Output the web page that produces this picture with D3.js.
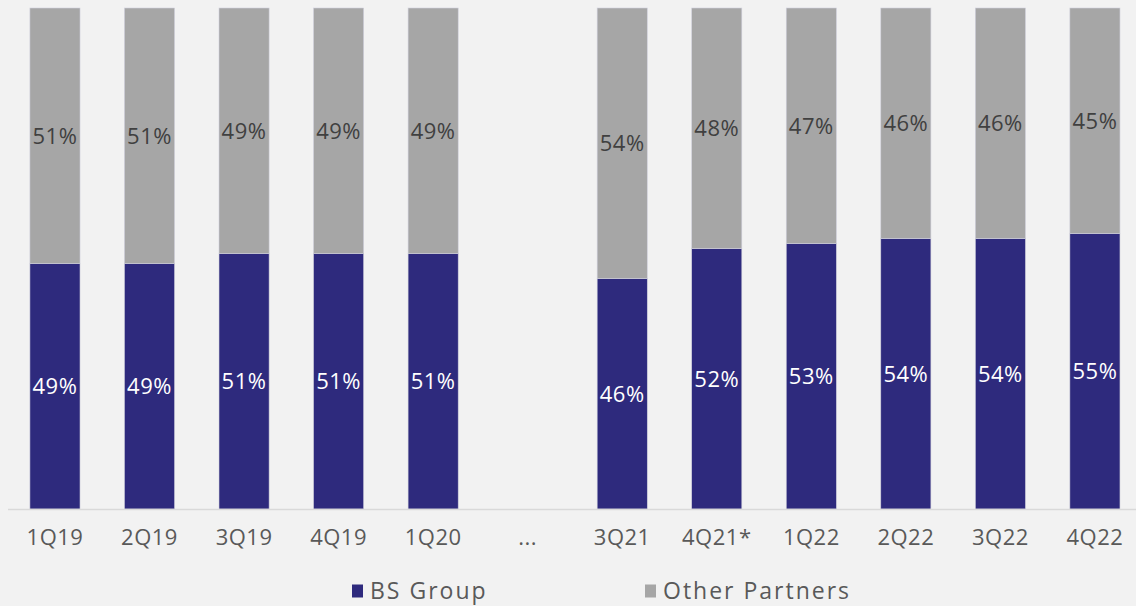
<!DOCTYPE html>
<html>
<head>
<meta charset="utf-8">
<script src="https://cdn.jsdelivr.net/npm/d3@7"></script>
<style>
  html, body { margin: 0; padding: 0; background: #f2f2f2; }
  svg { display: block; }
  text { font-family: "Open Sans", "Noto Sans", sans-serif; }
</style>
</head>
<body>
<svg id="chart" width="1136" height="606"></svg>
<script>
// Quarterly share of partner volume (%), "..." marks the gap in the series
const categories = ["1Q19", "2Q19", "3Q19", "4Q19", "1Q20", "...", "3Q21", "4Q21*", "1Q22", "2Q22", "3Q22", "4Q22"];
const bsGroup = [49, 49, 51, 51, 51, null, 46, 52, 53, 54, 54, 55];
const otherPartners = [51, 51, 49, 49, 49, null, 54, 48, 47, 46, 46, 45];
const seriesNames = ["BS Group", "Other Partners"];
const seriesColors = ["#2e2a7d", "#a6a6a6"];
const labelColors = ["#ffffff", "#404040"];

const width = 1136, height = 606;
const svg = d3.select("#chart");

const x = d3.scaleBand()
  .domain(categories)
  .range([7.7, 1142.2])
  .paddingInner(0.47)
  .paddingOuter(0.235);

const y = d3.scaleLinear().domain([0, 100]).range([509, 8]);

const rows = categories.map((c, i) => ({
  cat: c,
  "BS Group": bsGroup[i],
  "Other Partners": otherPartners[i]
})).filter(d => d["BS Group"] != null);

const stacked = d3.stack().keys(seriesNames)(rows);

const layers = svg.append("g").selectAll("g")
  .data(stacked)
  .join("g")
  .attr("fill", (d, i) => seriesColors[i]);

layers.selectAll("rect")
  .data(d => d)
  .join("rect")
  .attr("x", d => x(d.data.cat))
  .attr("width", x.bandwidth())
  .attr("y", d => y(d[1]))
  .attr("height", d => y(d[0]) - y(d[1]))
  .attr("stroke", "#d0d0dc")
  .attr("stroke-width", 0.6);

// Value labels centred in each segment
stacked.forEach((layer, li) => {
  svg.append("g").selectAll("text")
    .data(layer)
    .join("text")
    .attr("x", d => x(d.data.cat) + x.bandwidth() / 2)
    .attr("y", d => (y(d[0]) + y(d[1])) / 2)
    .attr("dy", "0.36em")
    .attr("text-anchor", "middle")
    .attr("fill", labelColors[li])
    .attr("font-size", 22)
    .attr("letter-spacing", 0.5)
    .text(d => (d[1] - d[0]) + "%");
});

// Category axis
const xAxis = svg.append("g")
  .attr("transform", "translate(0,509)")
  .call(d3.axisBottom(x).tickSize(0).tickPadding(20));
xAxis.select(".domain").remove();
xAxis.append("line")
  .attr("x1", 8).attr("x2", width)
  .attr("y1", 0.5).attr("y2", 0.5)
  .attr("stroke", "#d9d9d9").attr("stroke-width", 1.5);
xAxis.selectAll(".tick text")
  .attr("font-size", 22)
  .attr("fill", "#595959")
  .attr("letter-spacing", 0.5)
  .style("font-family", "'Open Sans', 'Noto Sans', sans-serif");

// Legend
const legendX = [352, 645];
const legend = svg.append("g").selectAll("g")
  .data(seriesNames)
  .join("g")
  .attr("transform", (d, i) => `translate(${legendX[i]},591)`);
legend.append("rect")
  .attr("x", 0).attr("y", -6.5)
  .attr("width", 11).attr("height", 13)
  .attr("fill", (d, i) => seriesColors[i]);
legend.append("text")
  .attr("x", 18)
  .attr("dy", "0.36em")
  .attr("font-size", 23)
  .attr("letter-spacing", 2)
  .attr("fill", "#595959")
  .text(d => d);
</script>
</body>
</html>
